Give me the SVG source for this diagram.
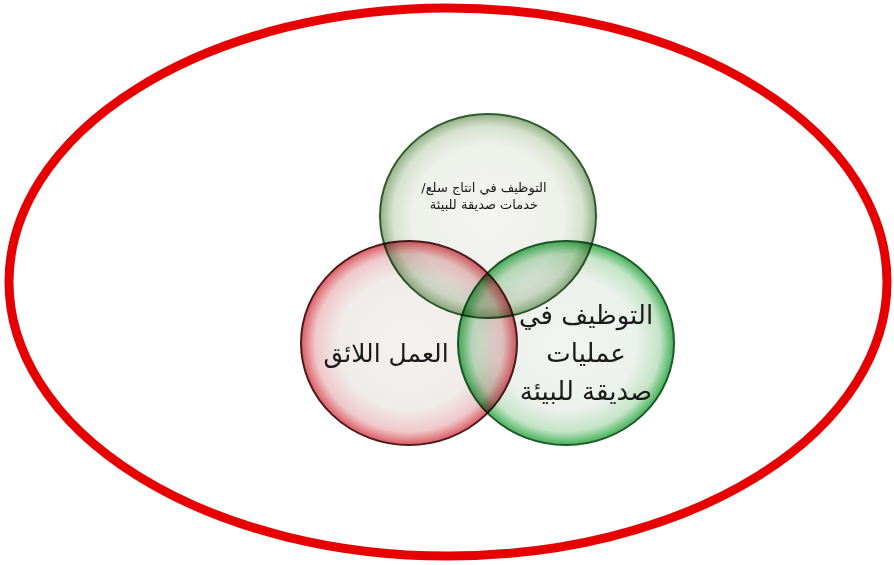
<svg xmlns="http://www.w3.org/2000/svg" width="894" height="565" viewBox="0 0 894 565">
<style>
.t{font-family:"DejaVu Sans","Liberation Sans",sans-serif;fill:#1a1a1a;text-anchor:middle;direction:rtl}
.c{mix-blend-mode:multiply;stroke-width:2}
</style>
<defs>
<radialGradient id="gTop" cx="50%" cy="50%" r="50%">
<stop offset="0" stop-color="#f4f4f2"/>
<stop offset="0.7" stop-color="#eef0ea"/>
<stop offset="0.88" stop-color="#d6e2cf"/>
<stop offset="1" stop-color="#93b088"/>
</radialGradient>
<radialGradient id="gRed" cx="50%" cy="50%" r="50%">
<stop offset="0" stop-color="#f4f2f0"/>
<stop offset="0.65" stop-color="#f0ecea"/>
<stop offset="0.87" stop-color="#efc8ca"/>
<stop offset="1" stop-color="#dc5a64"/>
</radialGradient>
<radialGradient id="gGreen" cx="50%" cy="50%" r="50%">
<stop offset="0" stop-color="#f2f4f2"/>
<stop offset="0.65" stop-color="#ecf1ec"/>
<stop offset="0.87" stop-color="#c4e4c7"/>
<stop offset="1" stop-color="#45b25a"/>
</radialGradient>
</defs>
<rect width="894" height="565" fill="#ffffff"/>
<g id="frame">
<ellipse cx="448" cy="282" rx="439" ry="274" fill="none" stroke="#e60000" stroke-width="9"/>
</g>
<g id="circles" style="isolation:isolate">
<g id="node-top">
<ellipse class="c" cx="488" cy="216" rx="108" ry="102" fill="url(#gTop)" stroke="#2f5a2a"/>
</g>
<g id="node-left">
<ellipse class="c" cx="409" cy="343" rx="108" ry="102" fill="url(#gRed)" stroke="#4a1c1c"/>
</g>
<g id="node-right">
<ellipse class="c" cx="566" cy="343" rx="108" ry="102" fill="url(#gGreen)" stroke="#1f5a2a"/>
</g>
</g>
<g id="labels">
<text class="t" x="484" y="192" font-size="13">التوظيف في انتاج سلع/</text>
<text class="t" x="484" y="209" font-size="13">خدمات صديقة للبيئة</text>
<text class="t" x="386" y="362" font-size="25">العمل اللائق</text>
<text class="t" x="586" y="324" font-size="26">التوظيف في</text>
<text class="t" x="586" y="362" font-size="26">عمليات</text>
<text class="t" x="586" y="400" font-size="26">صديقة للبيئة</text>
</g>
</svg>
